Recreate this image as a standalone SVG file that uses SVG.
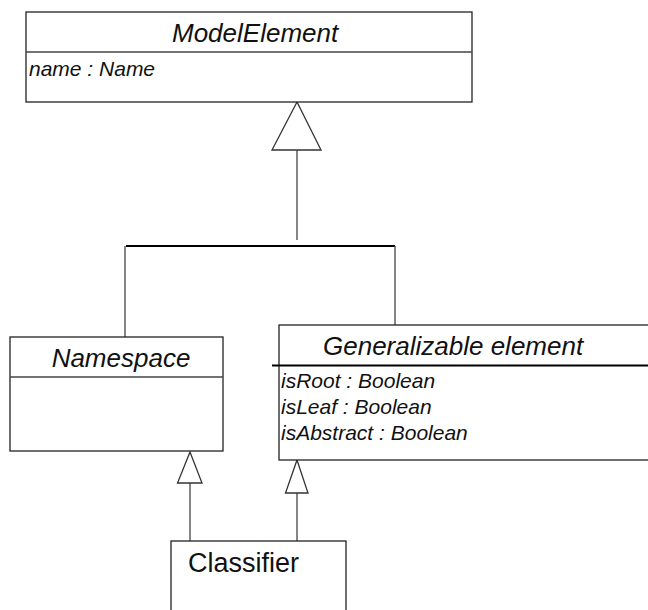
<svg xmlns="http://www.w3.org/2000/svg" width="648" height="610" viewBox="0 0 648 610">
  <style>
    .box { fill: #ffffff; stroke: #222222; stroke-width: 1.3; }
    .div { stroke: #444444; stroke-width: 1.3; }
    .title { font-family: "Liberation Sans", Arial, sans-serif; font-size: 26px; font-style: italic; fill: #111111; }
    .attr { font-family: "Liberation Sans", Arial, sans-serif; font-size: 21px; font-style: italic; fill: #111111; }
    .plain { font-family: "Liberation Sans", Arial, sans-serif; font-size: 27px; fill: #111111; }
    .conn { stroke: #444444; stroke-width: 1.3; fill: none; }
    .bar { stroke: #000000; stroke-width: 2; fill: none; }
    .head { fill: #ffffff; stroke: #333333; stroke-width: 1.3; }
  </style>

  <rect width="648" height="610" fill="#ffffff"/>

  <!-- connectors: generalization arrows -->
  <g id="connectors">
    <line class="conn" x1="297" y1="150" x2="297" y2="240"/>
    <line class="bar" x1="126" y1="246" x2="395" y2="246"/>
    <line class="conn" x1="125" y1="246" x2="125" y2="337"/>
    <line class="conn" x1="395" y1="246" x2="395" y2="325"/>
    <polygon class="head" points="297,102 272,150 321,150"/>

    <line class="conn" x1="190" y1="483" x2="190" y2="541"/>
    <polygon class="head" points="190,452 177.5,483 202,483"/>

    <line class="conn" x1="297" y1="493" x2="297" y2="541"/>
    <polygon class="head" points="297,460 285.5,493 308,493"/>
  </g>

  <g id="model-element">
    <rect class="box" x="26" y="12" width="446" height="90"/>
    <line class="div" x1="26" y1="52" x2="472" y2="52"/>
    <text class="title" x="172" y="42">ModelElement</text>
    <text class="attr" x="29" y="76">name : Name</text>
  </g>

  <g id="namespace">
    <rect class="box" x="10" y="337" width="213" height="114"/>
    <line class="div" x1="10" y1="377" x2="223" y2="377"/>
    <text class="title" x="121" y="367" text-anchor="middle">Namespace</text>
  </g>

  <g id="generalizable-element">
    <rect class="box" x="279" y="325" width="380" height="135"/>
    <line class="bar" x1="272" y1="365.5" x2="660" y2="365.5"/>
    <text class="title" x="323" y="355">Generalizable element</text>
    <text class="attr" x="281" y="388">isRoot : Boolean</text>
    <text class="attr" x="281" y="414">isLeaf : Boolean</text>
    <text class="attr" x="281" y="440">isAbstract : Boolean</text>
  </g>

  <g id="classifier">
    <rect class="box" x="171" y="541" width="175" height="90"/>
    <text class="plain" x="188" y="572">Classifier</text>
  </g>
</svg>
